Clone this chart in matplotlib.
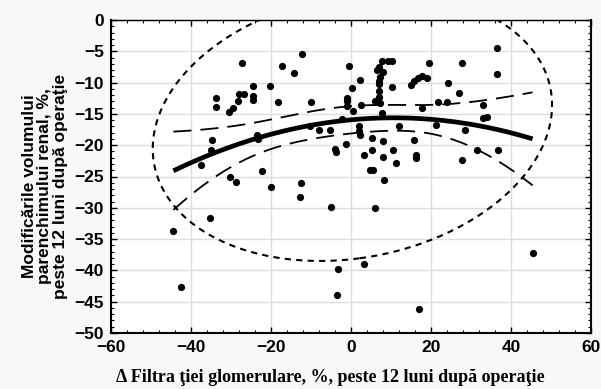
#Scatter of kidney volume change vs filtration change, with quadratic fit,
#95% confidence band of the fit and 95% data ellipse

import numpy as np
import matplotlib
matplotlib.use('Agg')
import matplotlib.pyplot as plt
from matplotlib.ticker import MultipleLocator


#Change of glomerular filtration, %
gfr_change = [
    -44.4, -42.6, -37.5, -35.0, -34.8, -35.2, -33.8, -33.8, -30.6, -29.4,
    -28.3, -27.9, -26.7, -27.2, -30.25, -28.7, -24.6, -24.6, -24.6, -23.4,
    -23.3, -22.2, -20.3, -20.0, -18.2, -17.3, -14.2, -12.3, -12.6, -12.7,
    -10.1, -10.3, -7.9, -5.2, -3.9, -3.8, -5.1, -3.2, -3.6,
    -0.6, 0.2, 2.25, -1.0, -1.0, -0.9, 2.6, 0.6, -2.3, -1.3,
    2.0, 2.0, 2.25, 3.2, 5.25, 5.25, 4.75, 5.6, 8.2, 6.0,
    3.3, 7.7, 9.2, 10.3, 7.1, 6.6, 7.9, 7.25, 7.1, 7.1,
    6.9, 10.2, 7.0, 6.0, 7.25, 7.7, 8.1, 10.4, 7.9, 11.2,
    12.0, 17.0,
    19.6, 27.7, 14.9, 15.7, 16.8, 17.8, 18.9, 24.2, 27.1, 21.8,
    23.9, 17.7, 21.3, 28.6, 15.7, 16.2, 16.3, 27.7, 33.1, 36.6,
    36.6, 33.1, 34.1, 31.4, 36.8, 45.4,
]

#Change of renal parenchyma volume, %
volume_change = [
    -33.7, -42.7, -23.2, -20.8, -19.2, -31.7, -12.4, -13.85, -14.75, -14.1,
    -13.0, -11.9, -11.9, -6.8, -25.1, -25.9, -10.5, -12.2, -12.7, -18.3,
    -19.0, -24.1, -10.5, -26.7, -13.1, -7.4, -8.4, -5.4, -26.1, -28.3,
    -13.1, -17.0, -17.6, -17.6, -20.6, -21.1, -29.9, -39.7, -43.9,
    -7.3, -10.8, -9.6, -12.5, -13.0, -13.8, -13.5, -14.5, -15.8, -19.8,
    -17.0, -17.7, -18.4, -21.6, -18.9, -20.8, -24.0, -24.0, -25.5, -30.1,
    -38.9, -6.5, -6.5, -6.5, -7.5, -8.0, -8.3, -9.1, -9.7, -10.3,
    -11.3, -10.75, -12.35, -13.0, -13.3, -14.8, -19.4, -20.7, -21.9, -22.8,
    -16.9, -46.2,
    -6.9, -6.8, -10.4, -9.7, -9.2, -8.9, -9.2, -10.0, -11.6, -13.1,
    -13.05, -14.1, -16.8, -17.6, -19.2, -21.5, -22.0, -22.4, -13.6, -4.5,
    -8.6, -15.7, -15.5, -20.8, -20.7, -37.3,
]

x_ticks = [-60, -40, -20, 0, 20, 40, 60]
y_ticks = [0, -5, -10, -15, -20, -25, -30, -35, -40, -45, -50]

x_label = 'Δ Filtra ţiei glomerulare, %, peste 12 luni după operaţie'
y_label = 'Modificările volumului\nparenchimului renal, %,\npeste 12 luni după operaţie'


#Quadratic least squares fit with 95% confidence band
def quadraticFit(x, y, xs):
    X = np.column_stack([np.ones_like(x), x, x ** 2])
    beta, _, _, _ = np.linalg.lstsq(X, y, rcond=None)
    resid = y - X @ beta
    s2 = resid @ resid / (len(x) - 3)
    cov = s2 * np.linalg.inv(X.T @ X)
    Xs = np.column_stack([np.ones_like(xs), xs, xs ** 2])
    fit = Xs @ beta
    se = np.sqrt(np.einsum('ij,jk,ik->i', Xs, cov, Xs))
    t = 1.983  # t quantile 0.975, about 104 degrees of freedom
    return fit, fit - t * se, fit + t * se


#95% data ellipse from mean and covariance
def dataEllipse(x, y):
    mean = np.array([x.mean(), y.mean()])
    cov = np.cov(x, y)
    vals, vecs = np.linalg.eigh(cov)
    k = np.sqrt(-2 * np.log(0.05))
    t = np.linspace(0, 2 * np.pi, 400)
    circle = np.vstack([np.cos(t), np.sin(t)])
    pts = vecs @ (np.sqrt(vals)[:, None] * circle) * k
    return pts[0] + mean[0], pts[1] + mean[1]


#Main
def main():

    x = np.array(gfr_change)
    y = np.array(volume_change)

    plt.rcParams['font.family'] = ['Liberation Sans', 'DejaVu Sans']

    fig = plt.figure(figsize=(6.01, 3.89), dpi=100, facecolor='#f8f8f8')
    ax = fig.add_axes([111 / 601, 1 - 333 / 389, 480 / 601, 313 / 389])
    ax.set_facecolor('white')

    #Grid
    ax.grid(True, color='#dddddd', linewidth=1)
    ax.set_axisbelow(True)

    #Ellipse
    ex, ey = dataEllipse(x, y)
    ax.plot(ex, ey, color='black', linewidth=1.5, dashes=(3, 2.5))

    #Fit and confidence band
    xs = np.linspace(x.min(), x.max(), 200)
    fit, lower, upper = quadraticFit(x, y, xs)
    ax.plot(xs, upper, color='black', linewidth=1.3, dashes=(10, 5))
    ax.plot(xs, lower, color='black', linewidth=1.3, dashes=(10, 5))
    ax.plot(xs, fit, color='black', linewidth=3.4, solid_capstyle='butt')

    #Points
    ax.plot(x, y, 'o', color='black', markersize=5.2, markeredgewidth=0)

    #Axes
    ax.set_xlim(-60, 60)
    ax.set_ylim(-50, 0)
    ax.set_xticks(x_ticks)
    ax.set_yticks(y_ticks)
    ax.xaxis.set_minor_locator(MultipleLocator(4))
    ax.yaxis.set_minor_locator(MultipleLocator(1))
    ax.tick_params(which='both', direction='in', top=True, right=True,
                   colors='black', labelsize=12.5)
    ax.tick_params(which='major', length=4, width=1)
    ax.tick_params(which='minor', length=2, width=0.8)
    ax.tick_params(axis='x', pad=5)
    ax.tick_params(axis='y', pad=5)
    for lab in ax.get_xticklabels() + ax.get_yticklabels():
        lab.set_fontweight('bold')
    ax.spines['left'].set_linewidth(1.5)
    ax.spines['bottom'].set_linewidth(1.5)
    ax.spines['right'].set_linewidth(1.5)
    ax.spines['top'].set_linewidth(1.0)

    #Labels
    fig.text(45 / 601, 1 - 186 / 389, y_label, rotation=90, ha='center',
             va='center', multialignment='center', fontsize=12.5,
             fontweight='bold', linespacing=1.0)
    fig.text(330 / 601, 1 - 377 / 389, x_label, ha='center', va='center',
             fontsize=13, fontweight='bold',
             family=['Liberation Serif', 'DejaVu Serif'])

    fig.savefig('out.png', dpi=100, facecolor=fig.get_facecolor())


#Main call
if __name__ == "__main__":
    main()
